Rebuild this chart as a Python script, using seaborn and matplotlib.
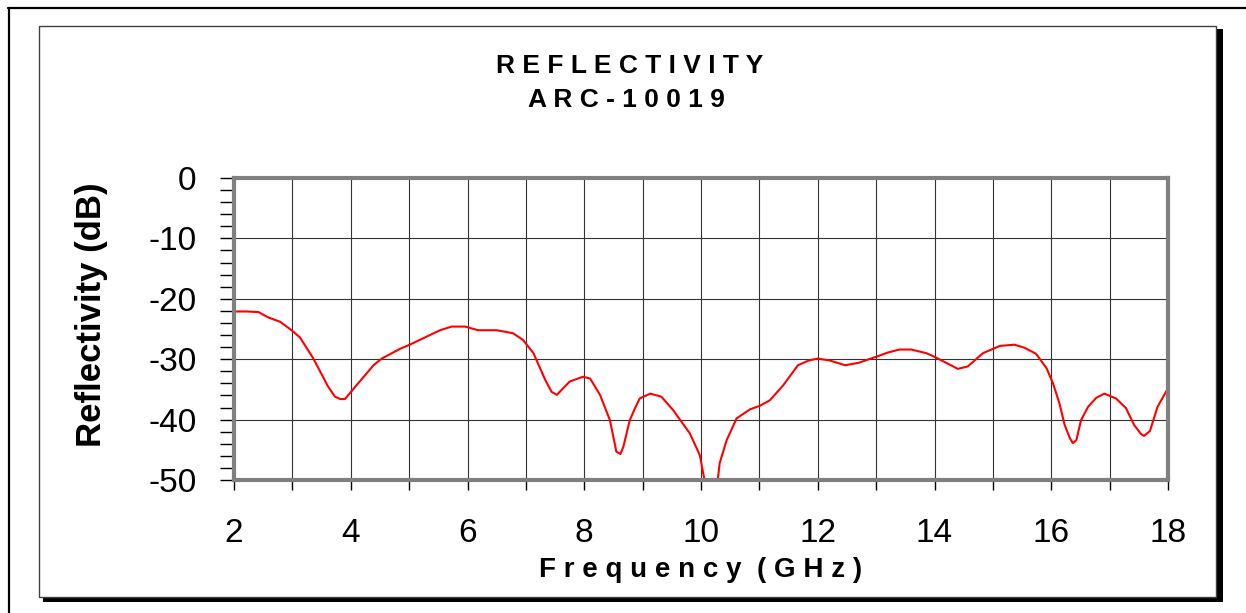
import matplotlib
matplotlib.use("Agg")
import matplotlib.pyplot as plt
from matplotlib.patches import Rectangle
from matplotlib.ticker import MultipleLocator
import seaborn as sns

# Data
freq = [2.0, 2.22, 2.42, 2.59, 2.79, 3.0, 3.13, 3.36, 3.61, 3.73, 3.82, 3.90,
        4.10, 4.39, 4.53, 4.84, 5.01, 5.53, 5.73, 5.96, 6.18, 6.50, 6.78, 6.95,
        7.13, 7.33, 7.44, 7.53, 7.75, 7.98, 8.10, 8.27, 8.44, 8.55, 8.62, 8.67,
        8.78, 8.87, 8.95, 9.13, 9.32, 9.52, 9.81, 9.98, 10.05, 10.17, 10.29, 10.32,
        10.44, 10.61, 10.84, 11.01, 11.18, 11.41, 11.66, 11.85, 12.0, 12.2, 12.47, 12.7,
        13.0, 13.2, 13.4, 13.6, 13.86, 14.0, 14.4, 14.57, 14.83, 15.12, 15.37, 15.54,
        15.74, 15.92, 16.03, 16.14, 16.23, 16.32, 16.37, 16.43, 16.51, 16.63, 16.77, 16.91,
        17.11, 17.28, 17.42, 17.54, 17.59, 17.69, 17.82, 18.0]
refl = [-22.1, -22.1, -22.2, -23.1, -23.8, -25.3, -26.4, -29.9, -34.5, -36.2, -36.6, -36.6,
        -34.3, -31.0, -29.9, -28.3, -27.6, -25.2, -24.6, -24.6, -25.2, -25.2, -25.7, -26.8,
        -29.0, -33.4, -35.4, -35.9, -33.7, -32.9, -33.2, -35.9, -40.1, -45.3, -45.7, -44.5,
        -40.1, -38.1, -36.5, -35.7, -36.2, -38.4, -42.3, -45.9, -49.5, -53.0, -49.7, -47.2,
        -43.4, -39.8, -38.3, -37.7, -36.8, -34.3, -31.0, -30.2, -29.9, -30.2, -31.0, -30.6,
        -29.6, -28.9, -28.4, -28.4, -29.0, -29.6, -31.6, -31.2, -29.0, -27.8, -27.6, -28.1,
        -29.1, -31.5, -34.0, -37.3, -40.9, -43.1, -43.9, -43.4, -40.1, -37.9, -36.4, -35.7,
        -36.5, -38.1, -40.9, -42.4, -42.7, -41.9, -37.9, -34.8]

title_lines = ["R E F L E C T I V I T Y", "A R C - 1 0 0 1 9"]
x_label = "F r e q u e n c y  ( G H z )"
y_label = "Reflectivity (dB)"

sns.set_style("white")
plt.rcParams['font.family'] = ['Liberation Sans', 'DejaVu Sans']
plt.rcParams['axes.unicode_minus'] = False
# seaborn uses dark gray text, the original is plain black
plt.rcParams['text.color'] = 'black'
plt.rcParams['axes.labelcolor'] = 'black'
plt.rcParams['xtick.color'] = 'black'
plt.rcParams['ytick.color'] = 'black'

W, H = 1246, 613
fig = plt.figure(figsize=(W / 100, H / 100), dpi=100)


def fx(px):
    return px / W


def fy(py):
    return 1 - py / H


# frame decorations (outer page edge, chart box and its shadow)
fig.add_artist(plt.Line2D([fx(8), 1.0], [fy(8), fy(8)], color='black', lw=1.6))
fig.add_artist(plt.Line2D([fx(9), fx(9)], [fy(8), 0.0], color='black', lw=1.6))
fig.add_artist(Rectangle((fx(1217), fy(602)), fx(6), fy(29) - fy(602),
                         facecolor='black', edgecolor='none'))
fig.add_artist(Rectangle((fx(43), fy(602)), fx(1223 - 43), fy(597) - fy(602),
                         facecolor='black', edgecolor='none'))
fig.add_artist(Rectangle((fx(39), fy(597)), fx(1216 - 39), fy(26) - fy(597),
                         facecolor='none', edgecolor='#404040', lw=1.0))

# plot area
ax = fig.add_axes([fx(234), fy(480), fx(1168 - 234), fy(178) - fy(480)])
sns.lineplot(x=freq, y=refl, color='red', linewidth=1.5, estimator=None, ax=ax)

ax.set_xlim(2, 18)
ax.set_ylim(-50, 0)
ax.xaxis.set_major_locator(MultipleLocator(2))
ax.xaxis.set_minor_locator(MultipleLocator(1))
ax.yaxis.set_major_locator(MultipleLocator(10))
ax.yaxis.set_minor_locator(MultipleLocator(2))

ax.grid(True, which='major', axis='both', color='#333333', linewidth=0.8)
ax.grid(True, which='minor', axis='x', color='#333333', linewidth=0.8)

for side in ['left', 'right', 'top', 'bottom']:
    ax.spines[side].set_visible(True)
    ax.spines[side].set_color('#808080')
    ax.spines[side].set_linewidth(3)

ax.tick_params(axis='x', which='both', direction='out', length=7, width=1,
               color='black', labelcolor='black', bottom=True, labelsize=24, pad=20)
ax.tick_params(axis='y', which='both', direction='out', length=10, width=1,
               color='black', labelcolor='black', left=True, labelsize=24, pad=17)

ax.set_xlabel(x_label, fontsize=20, fontweight='bold', va='baseline')
ax.xaxis.set_label_coords(0.5, (480 - 577) / 302)
ax.set_ylabel(y_label, fontsize=25, fontweight='bold', va='center')
ax.yaxis.set_label_coords((91 - 234) / 934, (480 - 315) / 302)

fig.text(fx(630), fy(73), title_lines[0], ha='center', va='baseline',
         fontsize=19, fontweight='bold')
fig.text(fx(626), fy(107), title_lines[1], ha='center', va='baseline',
         fontsize=19, fontweight='bold')

fig.savefig("out.png", dpi=100)
